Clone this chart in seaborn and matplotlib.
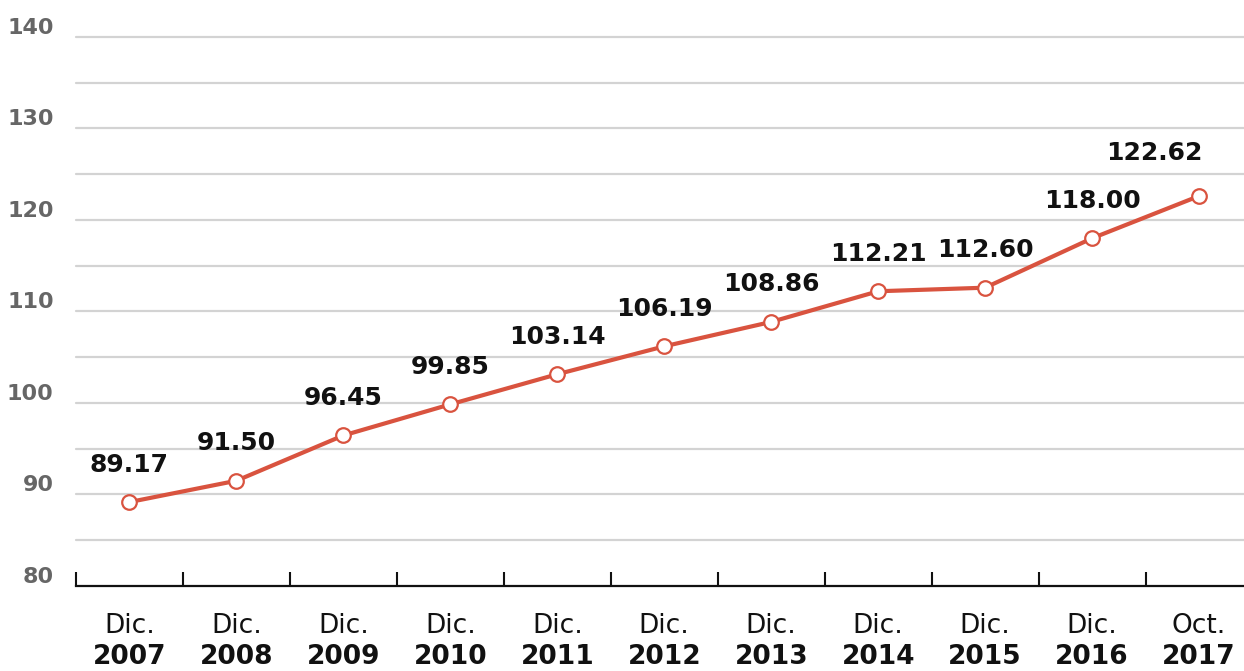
"""Line chart: index values Dic. 2007 - Oct. 2017."""

import numpy as np
import pandas as pd
import matplotlib
matplotlib.use("Agg")
import matplotlib.pyplot as plt
from matplotlib.transforms import ScaledTranslation
import seaborn as sns

months = ["Dic.", "Dic.", "Dic.", "Dic.", "Dic.", "Dic.", "Dic.", "Dic.", "Dic.", "Dic.", "Oct."]
years = ["2007", "2008", "2009", "2010", "2011", "2012", "2013", "2014", "2015", "2016", "2017"]
values = [89.17, 91.50, 96.45, 99.85, 103.14, 106.19, 108.86, 112.21, 112.60, 118.00, 122.62]
y_labels = [80, 90, 100, 110, 120, 130, 140]

RED = "#d9533f"
GRID = "#d3d3d3"

sns.set_theme(style="white")
plt.rcParams["font.family"] = ["DejaVu Sans"]


def main():
    df = pd.DataFrame({"pos": np.arange(len(values)), "value": values})

    fig = plt.figure(figsize=(12.44, 6.71), dpi=100)
    ax = fig.add_axes([0.061, 0.1267, 0.939, 0.8182])

    # horizontal grid every 5 units (axis line takes the place of 80)
    for g in range(85, 141, 5):
        ax.axhline(g, color=GRID, lw=1.6, zorder=0, clip_on=False)

    sns.lineplot(data=df, x="pos", y="value", color=RED, lw=3,
                 marker="o", markersize=10.5, markerfacecolor="white",
                 markeredgecolor=RED, markeredgewidth=1.6, ax=ax, zorder=3)

    last = len(values) - 1
    for x, v in zip(df["pos"], df["value"]):
        # last label sits up-left so it stays inside the figure
        off = (-32, 31) if x == last else (0, 27)
        ax.annotate(f"{v:.2f}", (x, v), xytext=off, textcoords="offset points",
                    ha="center", va="center", fontsize=18, fontweight="bold",
                    color="#111111")

    ax.set_xlim(-0.5, 10.42)
    ax.set_ylim(80, 140)

    ax.set_yticks(y_labels)
    ax.set_yticklabels([str(t) for t in y_labels], fontsize=16,
                       fontweight="bold", color="#666666")
    ax.tick_params(axis="y", length=0, pad=16)
    # labels sit a little above their grid lines
    shift = ScaledTranslation(0, 0.11, fig.dpi_scale_trans)
    for lbl in ax.get_yticklabels():
        lbl.set_transform(lbl.get_transform() + shift)

    # tick marks between categories, labels drawn as text
    ax.set_xticks(np.arange(len(values)) - 0.5)
    ax.set_xticklabels([])
    ax.tick_params(axis="x", direction="in", length=10, width=1.5,
                   color="#111111", bottom=True)
    for i, (m, yr) in enumerate(zip(months, years)):
        ax.text(i, -0.073, m, transform=ax.get_xaxis_transform(),
                ha="center", va="center", fontsize=19, color="#111111")
        ax.text(i, -0.129, yr, transform=ax.get_xaxis_transform(),
                ha="center", va="center", fontsize=19, fontweight="bold",
                color="#111111")

    ax.set_xlabel("")
    ax.set_ylabel("")
    for side in ["top", "right", "left"]:
        ax.spines[side].set_visible(False)
    ax.spines["bottom"].set_color("#111111")
    ax.spines["bottom"].set_linewidth(1.6)

    fig.savefig("out.png", facecolor="white")
    plt.close(fig)


if __name__ == "__main__":
    main()
